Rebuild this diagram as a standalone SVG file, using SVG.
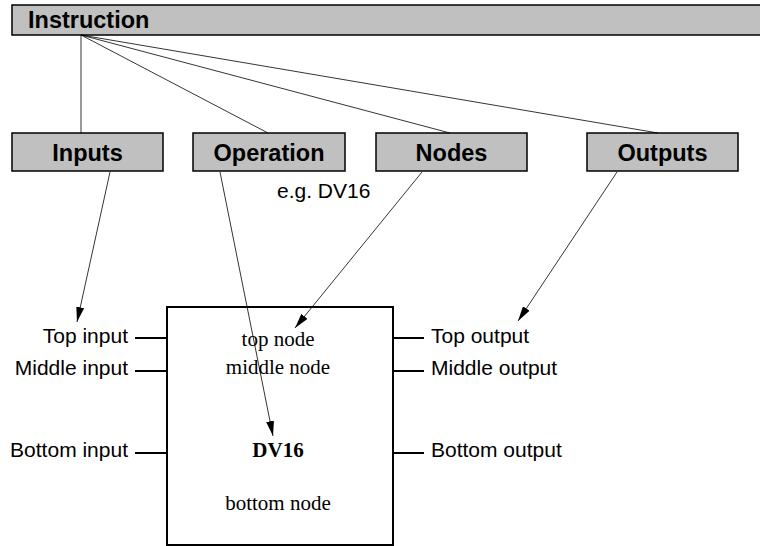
<svg xmlns="http://www.w3.org/2000/svg" width="760" height="546" viewBox="0 0 760 546">
  <style>
    .box { fill: #c0c0c0; stroke: #000; stroke-width: 1.5; }
    .hdr { font-family: "Liberation Sans", Arial, sans-serif; font-weight: bold; font-size: 23.5px; fill: #000; }
    .lbl { font-family: "Liberation Sans", Arial, sans-serif; font-size: 21px; fill: #000; }
    .ser { font-family: "Liberation Serif", "Times New Roman", serif; font-size: 21px; fill: #000; }
    .thin { stroke: #000; stroke-width: 0.8; fill: none; }
    .pin { stroke: #000; stroke-width: 2; fill: none; }
  </style>
  <defs>
    <marker id="arrow" markerUnits="userSpaceOnUse" markerWidth="16" markerHeight="8" refX="15" refY="4" orient="auto">
      <path d="M0,0 L15,4 L0,8 Z" fill="#000"/>
    </marker>
  </defs>
  <rect width="760" height="546" fill="#fff"/>

  <!-- header bar -->
  <g id="instruction">
    <rect class="box" x="12" y="5" width="760" height="30"/>
    <text class="hdr" x="28" y="28">Instruction</text>
  </g>

  <!-- category boxes -->
  <g id="inputs">
    <rect class="box" x="12" y="133" width="151" height="38"/>
    <text class="hdr" x="87.5" y="161" text-anchor="middle">Inputs</text>
  </g>
  <g id="operation">
    <rect class="box" x="193" y="133" width="152" height="38"/>
    <text class="hdr" x="269" y="161" text-anchor="middle">Operation</text>
  </g>
  <g id="nodes">
    <rect class="box" x="376" y="133" width="151" height="38"/>
    <text class="hdr" x="451.5" y="161" text-anchor="middle">Nodes</text>
  </g>
  <g id="outputs">
    <rect class="box" x="587" y="133" width="151" height="38"/>
    <text class="hdr" x="662.5" y="161" text-anchor="middle">Outputs</text>
  </g>
  <g id="example">
    <text class="lbl" x="277" y="198">e.g. DV16</text>
  </g>

  <!-- function block -->
  <g id="block">
    <rect x="167" y="307" width="226" height="238" fill="#fff" stroke="#000" stroke-width="2"/>
    <text class="ser" x="278" y="346" text-anchor="middle">top node</text>
    <text class="ser" x="278" y="374" text-anchor="middle">middle node</text>
    <text class="ser" x="278" y="457" text-anchor="middle" font-weight="bold">DV16</text>
    <text class="ser" x="278" y="510" text-anchor="middle">bottom node</text>
  </g>

  <!-- pin labels -->
  <g id="input-pins">
    <text class="lbl" x="128" y="343" text-anchor="end">Top input</text>
    <text class="lbl" x="128" y="375" text-anchor="end">Middle input</text>
    <text class="lbl" x="128" y="457" text-anchor="end">Bottom input</text>
  </g>
  <g id="output-pins">
    <text class="lbl" x="431" y="343">Top output</text>
    <text class="lbl" x="431" y="375">Middle output</text>
    <text class="lbl" x="431" y="457">Bottom output</text>
  </g>

  <!-- connectors -->
  <g id="connectors">
    <line class="thin" x1="81" y1="35" x2="81" y2="133"/>
    <line class="thin" x1="81" y1="35" x2="268" y2="133"/>
    <line class="thin" x1="81" y1="35" x2="450" y2="133"/>
    <line class="thin" x1="81" y1="35" x2="658" y2="133"/>

    <line class="thin" x1="110" y1="172" x2="77" y2="322" marker-end="url(#arrow)"/>
    <line class="thin" x1="220" y1="172" x2="273" y2="436" marker-end="url(#arrow)"/>
    <line class="thin" x1="422" y1="172" x2="295" y2="328" marker-end="url(#arrow)"/>
    <line class="thin" x1="617" y1="172" x2="518" y2="321" marker-end="url(#arrow)"/>

    <line class="pin" x1="135" y1="338" x2="167" y2="338"/>
    <line class="pin" x1="135" y1="371" x2="167" y2="371"/>
    <line class="pin" x1="135" y1="453" x2="167" y2="453"/>
    <line class="pin" x1="393" y1="338" x2="424" y2="338"/>
    <line class="pin" x1="393" y1="371" x2="424" y2="371"/>
    <line class="pin" x1="393" y1="453" x2="424" y2="453"/>
  </g>
</svg>
